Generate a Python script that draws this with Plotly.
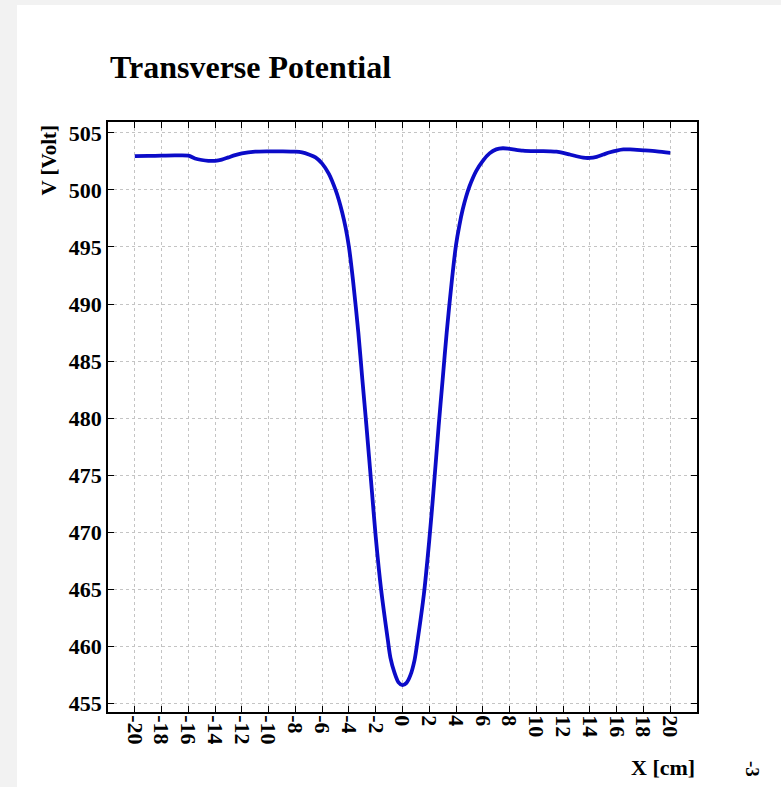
import plotly.graph_objects as go

# Transverse potential profile across the beam axis
x_cm = [-20, -19, -18, -17, -16, -15.5, -15, -14.5, -14, -13.5, -13, -12.5, -12,
        -11, -10, -9, -8, -7.5, -7, -6.5, -6, -5.5, -5, -4.75, -4.5, -4.25, -4,
        -3.7, -3.3, -3, -2.7, -2.3, -2, -1.6, -1.1, -0.9, -0.6, -0.3, 0, 0.3, 0.6,
        0.9, 1.1, 1.6, 2, 2.3, 2.7, 3, 3.3, 3.7, 4, 4.25, 4.5, 4.75, 5, 5.5, 6,
        6.5, 7, 7.5, 8, 9, 10, 11, 11.5, 12, 12.5, 13, 13.5, 14, 14.5, 15, 15.5,
        16, 16.5, 17, 18, 19, 20]
v_volt = [502.96, 502.98, 503.0, 503.02, 503.0, 502.75, 502.62, 502.55, 502.55,
          502.65, 502.85, 503.05, 503.2, 503.35, 503.38, 503.38, 503.35, 503.28,
          503.1, 502.85, 502.3, 501.4, 500.0, 499.1, 498.0, 496.7, 495.0, 492.1,
          487.5, 483.4, 479.4, 473.8, 469.6, 465.0, 460.6, 459.0, 457.7, 456.85,
          456.6, 456.8, 457.5, 458.8, 460.3, 464.6, 469.3, 473.4, 479.3, 483.4,
          487.5, 492.2, 495.2, 496.9, 498.3, 499.4, 500.3, 501.65, 502.55, 503.2,
          503.55, 503.65, 503.6, 503.45, 503.4, 503.38, 503.35, 503.25, 503.1,
          502.95, 502.82, 502.8, 502.9, 503.1, 503.3, 503.45, 503.55, 503.55,
          503.47, 503.38, 503.25]

x_ticks = list(range(-20, 21, 2))
x_tick_text = [str(v) for v in x_ticks]
y_ticks = list(range(455, 506, 5))
y_tick_text = [str(v) for v in y_ticks]

serif = "Liberation Serif"

fig = go.Figure()
fig.add_trace(go.Scatter(
    x=x_cm, y=v_volt, mode="lines",
    line=dict(color="#0b0bc8", width=3.8, shape="spline", smoothing=0.8),
    showlegend=False, hoverinfo="x+y",
))

axis_common = dict(
    showline=True, linecolor="black", linewidth=1.5, mirror="ticks",
    ticks="inside", ticklen=6, tickwidth=1.2, tickcolor="black",
    showgrid=True, gridcolor="#c4c4c4", griddash="dot", gridwidth=1,
    zeroline=False,
    tickfont=dict(family=serif, size=22, color="black", weight="bold"),
)

fig.update_xaxes(
    range=[-22, 22], tickvals=x_ticks, ticktext=x_tick_text,
    tickangle=90, ticklabelstandoff=-3, **axis_common,
)
fig.update_yaxes(
    range=[454.25, 505.95], tickvals=y_ticks, ticktext=y_tick_text,
    **axis_common,
)

fig.update_layout(
    width=781, height=787,
    margin=dict(l=108, r=84, t=122, b=75, pad=0),
    paper_bgcolor="#f2f2f2", plot_bgcolor="white",
    shapes=[dict(type="rect", xref="paper", yref="paper",
                 x0=-0.1545, x1=1.1426, y0=-0.1271, y1=1.1983,
                 fillcolor="white", line=dict(width=0), layer="below")],
    annotations=[
        dict(text="Transverse Potential", xref="paper", yref="paper",
             x=0, y=1.0932, xanchor="left", yanchor="middle", showarrow=False,
             font=dict(family=serif, size=32, color="black", weight="bold")),
        dict(text="V [Volt]", xref="paper", yref="paper",
             x=-0.1002, y=1.0, xanchor="center", yanchor="top", textangle=-90,
             showarrow=False,
             font=dict(family=serif, size=21, color="black", weight="bold")),
        dict(text="X [cm]", xref="paper", yref="paper",
             x=1.0, y=-0.0949, xanchor="right", yanchor="middle",
             showarrow=False,
             font=dict(family=serif, size=22, color="black", weight="bold")),
        dict(text="-3", xref="paper", yref="paper",
             x=1.0934, y=-0.0966, xanchor="center", yanchor="middle", textangle=90,
             showarrow=False,
             font=dict(family=serif, size=19, color="black", weight="bold")),
    ],
)

fig.write_html("out.html")
